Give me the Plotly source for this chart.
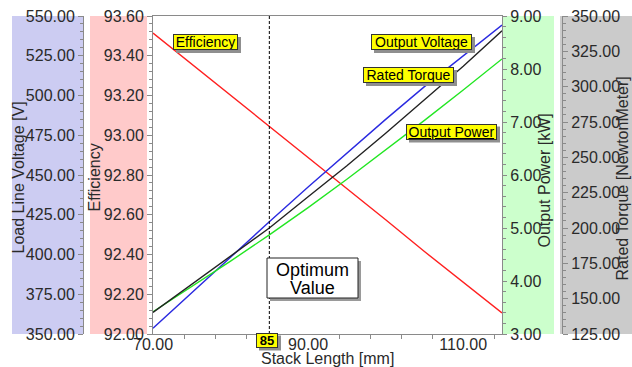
import plotly.graph_objects as go

# ---- data -------------------------------------------------------------
stack_length = [70, 75, 80, 85, 90, 95, 100, 105, 110, 115]          # mm
efficiency = [93.514, 93.358, 93.203, 93.047, 92.890, 92.735, 92.575, 92.415, 92.260, 92.106]
output_voltage = [353.6, 376.0, 398.4, 420.6, 442.4, 464.0, 485.0, 505.6, 525.0, 544.3]  # V
rated_torque = [140.3, 160.0, 180.0, 200.0, 222.1, 244.0, 267.0, 290.5, 314.5, 339.5]    # Nm
output_power = [3.42, 3.895, 4.375, 4.87, 5.385, 5.92, 6.47, 7.03, 7.605, 8.19]          # kW
optimum_length = 85

# ---- canvas geometry (pixels) -----------------------------------------
W, H = 632, 367
TOP, BOTTOM = 16, 334
FONT = "Liberation Sans, Arial, sans-serif"
AXIS_GRAY = "#8a8a8a"
TEXT = "#2a2a2a"


def px(x):
    return x / W


def py(y):
    return (BOTTOM - y) / (BOTTOM - TOP)


fig = go.Figure()
fig.add_trace(go.Scatter(x=stack_length, y=efficiency, yaxis="y", mode="lines",
                         line=dict(color="#ff2020", width=1.4), name="Efficiency"))
fig.add_trace(go.Scatter(x=stack_length, y=output_voltage, yaxis="y2", mode="lines",
                         line=dict(color="#2a2ae0", width=1.4), name="Output Voltage"))
fig.add_trace(go.Scatter(x=stack_length, y=output_power, yaxis="y3", mode="lines",
                         line=dict(color="#22e622", width=1.4), name="Output Power"))
fig.add_trace(go.Scatter(x=stack_length, y=rated_torque, yaxis="y4", mode="lines",
                         line=dict(color="#222222", width=1.4), name="Rated Torque"))

tickfont = dict(family=FONT, size=16, color=TEXT)


def yaxis(rng, dtick, **kw):
    d = dict(range=rng, tick0=rng[0], dtick=dtick, tickformat=".2f",
             ticks="outside", ticklen=5, tickcolor=AXIS_GRAY, tickwidth=1,
             showline=True, linecolor=AXIS_GRAY, linewidth=1,
             showgrid=False, zeroline=False, tickfont=tickfont,
             minor=dict(dtick=dtick / 5, tick0=rng[0], ticks="outside",
                        ticklen=3, tickcolor=AXIS_GRAY, showgrid=False),
             fixedrange=True)
    d.update(kw)
    return d


fig.update_layout(
    width=W, height=H,
    margin=dict(l=0, r=0, t=TOP, b=H - BOTTOM, autoexpand=False),
    paper_bgcolor="white", plot_bgcolor="white",
    showlegend=False,
    # labelled positions every 20 mm, tick marks every 4 mm (drawn as minor ticks)
    xaxis=dict(domain=[px(153), px(502)], range=[70, 115], tick0=70, dtick=20,
               tickformat=".2f", ticks="", ticklabelstandoff=-4,
               showline=True, linecolor=AXIS_GRAY, linewidth=1, mirror=True,
               showgrid=False, zeroline=False, tickfont=tickfont,
               minor=dict(dtick=4, tick0=70, ticks="outside", ticklen=4,
                          tickcolor=AXIS_GRAY, showgrid=False),
               fixedrange=True),
    yaxis=yaxis([92, 93.6], 0.2, anchor="x", side="left"),
    yaxis2=yaxis([350, 550], 25, anchor="free", position=px(83), side="left",
                 overlaying="y"),
    yaxis3=yaxis([3, 9], 1, anchor="x", side="right", overlaying="y", ticklen=4),
    yaxis4=yaxis([125, 350], 25, anchor="free", position=px(562), side="right",
                 overlaying="y"),
)

# coloured bands behind each value axis
bands = [(12, 83, "#ccccf2"), (90, 147, "#ffcaca"), (503, 554, "#ccffcc"), (560, 632, "#cbcbcb")]
for x0, x1, col in bands:
    fig.add_shape(type="rect", xref="paper", yref="paper", x0=px(x0), x1=px(x1),
                  y0=0, y1=1, fillcolor=col, line=dict(width=0), layer="below")

# marker line for the chosen stack length
fig.add_shape(type="line", xref="x", yref="paper", x0=optimum_length, x1=optimum_length,
              y0=0, y1=1, line=dict(color="black", width=1, dash="3px,2px"))

# "Optimum Value" callout box with drop shadow
fig.add_shape(type="rect", xref="paper", yref="paper", x0=px(270), x1=px(361),
              y0=py(301), y1=py(261), fillcolor="#9a9a9a", line=dict(width=0))
fig.add_shape(type="rect", xref="paper", yref="paper", x0=px(267), x1=px(358),
              y0=py(298), y1=py(258), fillcolor="white", line=dict(color="#222", width=1))
for txt, cy in [("Optimum", 269.5), ("Value", 287.5)]:
    fig.add_annotation(x=px(312.5), y=py(cy), xref="paper", yref="paper", text=txt,
                       showarrow=False, xanchor="center", yanchor="middle",
                       font=dict(family=FONT, size=18, color="black"))


def tag(text, cx, cy, w, h, size=14):
    # drop shadow behind the yellow label box
    ow, oh = w + 2, h + 2
    fig.add_shape(type="rect", xref="paper", yref="paper",
                  x0=px(cx - ow / 2 + 3), x1=px(cx + ow / 2 + 3),
                  y0=py(cy + oh / 2 + 3), y1=py(cy - oh / 2 + 3),
                  fillcolor="#8f8f8f", line=dict(width=0))
    fig.add_annotation(x=px(cx), y=py(cy), xref="paper", yref="paper", text=text,
                       showarrow=False, width=w, height=h, borderpad=0, borderwidth=1,
                       xanchor="center", yanchor="middle",
                       bgcolor="#ffff00", bordercolor="#333",
                       font=dict(family=FONT, size=size, color="black"))


tag("Efficiency", 205.5, 42, 63, 14)
tag("Output Voltage", 421.5, 42, 99, 14)
tag("Rated Torque", 408.5, 75, 89, 14)
tag('<span style="text-decoration:underline">Output Power</span>', 451.5, 131.5, 89, 14)
tag("<b>85</b>", 267, 340, 20, 13, size=13)

# axis titles
titles = [
    ("Load Line Voltage [V]", 17.5, 178, -90),
    ("Efficiency", 93.5, 178, -90),
    ("Output Power [kW]", 543.5, 181, -90),
    ("Rated Torque [NewtonMeter]", 621.5, 179, -90),
    ("Stack Length [mm]", 327, 358, 0),
]
for txt, cx, cy, ang in titles:
    fig.add_annotation(x=px(cx), y=py(cy), xref="paper", yref="paper", text=txt,
                       textangle=ang, showarrow=False, xanchor="center", yanchor="middle",
                       font=dict(family=FONT, size=16, color=TEXT))

fig.write_html("out.html")
